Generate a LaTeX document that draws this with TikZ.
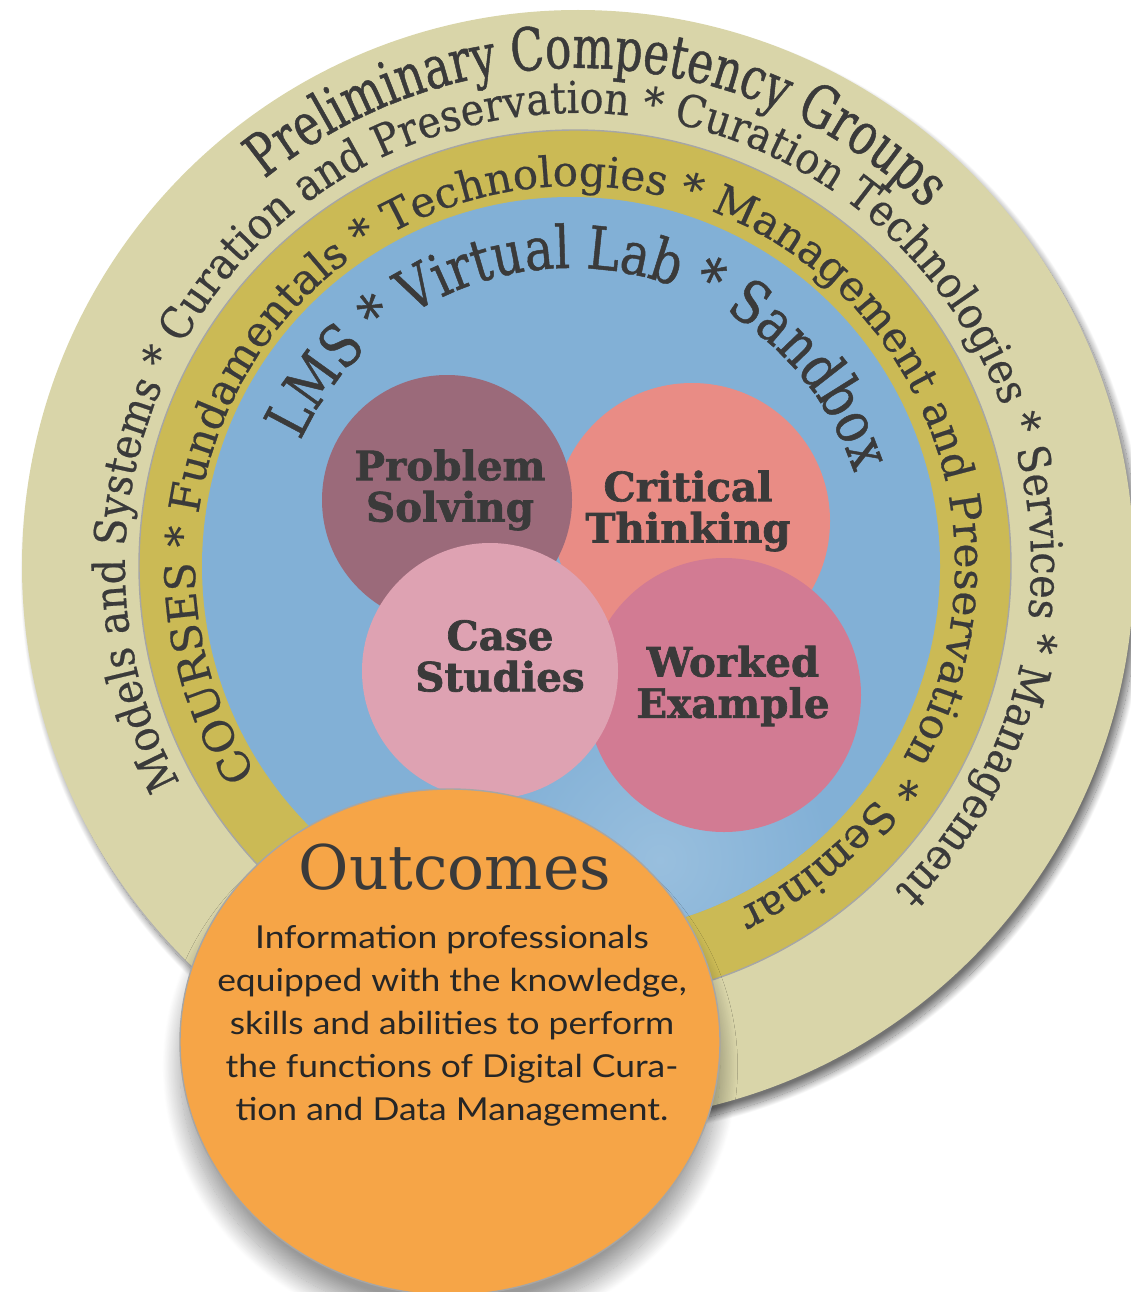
\documentclass[tikz,border=0pt]{standalone}
\usepackage{fontspec}
\usetikzlibrary{decorations.text,shadows.blur}
\setmainfont{DejaVu Serif}
\newfontfamily\topfont[FakeStretch=0.74,FakeBold=0.8]{DejaVu Serif}
\newfontfamily\outerfont[FakeStretch=0.9,FakeBold=0.5]{DejaVu Serif}
\newfontfamily\coursefont[FakeBold=0.5]{DejaVu Serif}
\newfontfamily\labfont[FakeStretch=0.82,FakeBold=0.8]{DejaVu Serif}
\newfontfamily\bubblefont[FakeBold=1.6]{DejaVu Serif Bold}
\newfontfamily\bodyfont[FakeStretch=1.12]{Lato}

\definecolor{sand}{HTML}{D9D5A9}
\definecolor{ringolive}{HTML}{CBBA55}
\definecolor{ringblue}{HTML}{82B0D6}
\definecolor{paleblue}{HTML}{ABCBE4}
\definecolor{probcol}{HTML}{9B6A7A}
\definecolor{critcol}{HTML}{E98C85}
\definecolor{casecol}{HTML}{DEA2B2}
\definecolor{workcol}{HTML}{D27B93}
\definecolor{outcol}{HTML}{F6A547}
\definecolor{ink}{HTML}{3A3A3A}

\begin{document}
\begin{tikzpicture}[x=0.2mm, y=0.2mm,
    ringtext/.style={decorate, decoration={text along path, text align=center, text color=ink, text={#1}}},
    bubbletext/.style={font=\bubblefont\fontsize{23}{23.5}\selectfont, text=ink, align=center, inner sep=0pt}]

    \useasboundingbox (0,0) rectangle (1130,-1292);

    \coordinate (hub) at (578,-566);
    \coordinate (ringhub) at (575,-566);
    \coordinate (bluehub) at (571,-566);

    \fill[sand, blur shadow={shadow xshift=3pt, shadow yshift=-5pt, shadow blur radius=4pt, shadow blur steps=25, shadow opacity=55}] (hub) circle[radius=556];
    \filldraw[ringolive, draw=gray!70, line width=0.8pt] (ringhub) circle[radius=436];
    \fill[ringblue] (bluehub) circle[radius=369];
    \begin{scope}
      \clip (bluehub) circle[radius=369];
      \shade[inner color=ringblue!45!paleblue, outer color=ringblue] (660,-860) circle[radius=170];
    \end{scope}

    \path[ringtext={|\topfont\fontsize{33.6}{40}\selectfont|Preliminary Competency Groups}]
      ([shift={(177.4:498)}]hub) arc[start angle=177.4, end angle=-2.6, radius=498];
    \path[ringtext={|\outerfont\fontsize{25}{30}\selectfont|Models and Systems * Curation and Preservation * Curation Technologies * Services * Management}]
      ([shift={(251.45:453)}]hub) arc[start angle=251.45, end angle=-88.55, radius=453];
    \path[ringtext={|\coursefont\fontsize{24}{29}\selectfont|COURSES * Fundamentals * Technologies * Management and Preservation * Seminar}]
      ([shift={(244.15:380)}]ringhub) arc[start angle=244.15, end angle=-95.85, radius=380];
    \path[ringtext={|\labfont\fontsize{33.6}{40}\selectfont|LMS * Virtual Lab * Sandbox}]
      ([shift={(176.7:298)}]bluehub) arc[start angle=176.7, end angle=-3.3, radius=298];

    \fill[critcol] (692,-521) circle[radius=138];
    \fill[probcol] (447,-500) circle[radius=125];
    \fill[workcol] (724,-695) circle[radius=137];
    \fill[casecol] (490,-671) circle[radius=128];

    \node[bubbletext] (solving) at (450,-490) {Problem\\Solving};
    \node[bubbletext] (thinking) at (688,-511) {Critical\\Thinking};
    \node[bubbletext] (studies) at (500,-656) {Case\\Studies};
    \node[bubbletext] (example) at (733,-686) {Worked\\Example};

    \filldraw[outcol, draw=gray!70, line width=0.8pt, blur shadow={shadow xshift=0pt, shadow yshift=-14pt, shadow blur radius=10pt, shadow blur steps=30, shadow opacity=40}] (450,-1042) ellipse[x radius=270, y radius=253];
    \node[font=\fontsize{35}{40}\selectfont, text=ink, inner sep=0pt] (outcomes) at (455,-867) {Outcomes};
    \node[font=\bodyfont\fontsize{18}{24.5}\selectfont, text=black!85, align=center, inner sep=0pt] (summary) at (452,-1026)
      {Information professionals\\equipped with the knowledge,\\skills and abilities to perform\\the functions of Digital Cura-\\tion and Data Management.};

\end{tikzpicture}
\end{document}
